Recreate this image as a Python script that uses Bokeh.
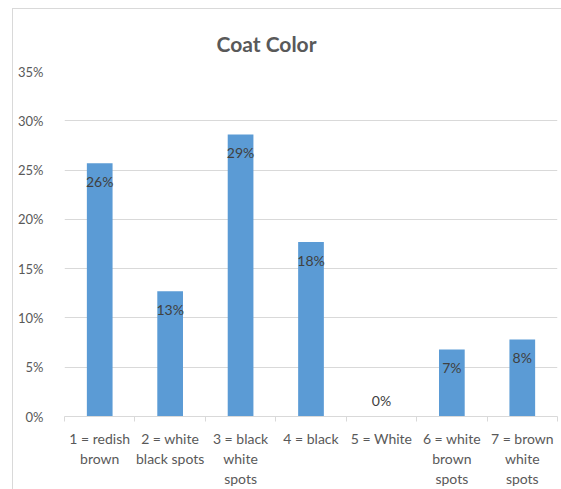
import numpy as np
from bokeh.plotting import figure
from bokeh.models import (ColumnDataSource, Range1d, FixedTicker, NumeralTickFormatter,
                          LinearAxis)
from bokeh.core.properties import value
from bokeh.embed import file_html
from bokeh.resources import INLINE

categories = ["1 = redish\nbrown", "2 = white\nblack spots", "3 = black\nwhite\nspots",
              "4 = black", "5 = White", "6 = white\nbrown\nspots", "7 = brown\nwhite\nspots"]
shares = [0.257, 0.127, 0.286, 0.177, 0.0, 0.068, 0.078]
share_labels = ["26%", "13%", "29%", "18%", "0%", "7%", "8%"]
y_ticks = [0, 0.05, 0.10, 0.15, 0.20, 0.25, 0.30, 0.35]

FONT = "Lato"
pos = (np.arange(len(categories)) + 0.5).tolist()
offsets = [18 if v > 0 else -16 for v in shares]

src = ColumnDataSource(dict(x=pos, top=shares, lab=share_labels, off=offsets))

p = figure(width=549, height=481, output_backend="svg", toolbar_location=None,
           x_range=Range1d(0, len(categories)), y_range=Range1d(0, 0.35),
           x_axis_location=None, y_axis_location=None,
           min_border_left=51, min_border_right=5, min_border_top=62, min_border_bottom=72,
           margin=(8, 0, 0, 12),
           styles={"border-top": "1px solid #d9d9d9", "border-left": "1px solid #d9d9d9"})
p.outline_line_color = None
p.background_fill_color = "white"
p.border_fill_color = "white"

p.title.text = "Coat Color"
p.title.align = "left"
p.title.offset = 152
p.title.standoff = 32
p.title.text_font = FONT
p.title.text_font_size = "21px"
p.title.text_font_style = "bold"
p.title.text_color = "#595959"

p.vbar(x="x", top="top", width=0.365, bottom=0, source=src,
       fill_color="#5B9BD5", line_color=None)

p.text(x="x", y="top", text="lab", y_offset="off", source=src,
       text_align="center", text_baseline="middle",
       text_font=value(FONT), text_font_size="14px", text_color="#404040")

# y axis
yaxis = LinearAxis(ticker=FixedTicker(ticks=y_ticks),
                   formatter=NumeralTickFormatter(format="0%"))
yaxis.axis_line_color = None
yaxis.major_tick_line_color = None
yaxis.minor_tick_line_color = None
yaxis.major_label_standoff = 15
yaxis.major_label_text_font = FONT
yaxis.major_label_text_font_size = "13px"
yaxis.major_label_text_color = "#595959"
p.add_layout(yaxis, "left")

# x axis
xaxis = LinearAxis(ticker=FixedTicker(ticks=pos, minor_ticks=list(range(len(categories) + 1))))
xaxis.major_label_overrides = {pv: c for pv, c in zip(pos, categories)}
xaxis.axis_line_color = "#d9d9d9"
xaxis.major_tick_line_color = None
xaxis.major_tick_out = 0
xaxis.major_tick_in = 0
xaxis.minor_tick_line_color = "#d9d9d9"
xaxis.minor_tick_out = 5
xaxis.minor_tick_in = 0
xaxis.major_label_standoff = 8
xaxis.major_label_text_font = FONT
xaxis.major_label_text_font_size = "14px"
xaxis.major_label_text_color = "#595959"
xaxis.major_label_text_line_height = 1.2
p.add_layout(xaxis, "below")

p.xgrid.visible = False
p.ygrid.ticker = FixedTicker(ticks=y_ticks[1:])
p.ygrid.grid_line_color = "#d9d9d9"
p.ygrid.grid_line_width = 1

open("out.html", "w").write(file_html(p, INLINE))
